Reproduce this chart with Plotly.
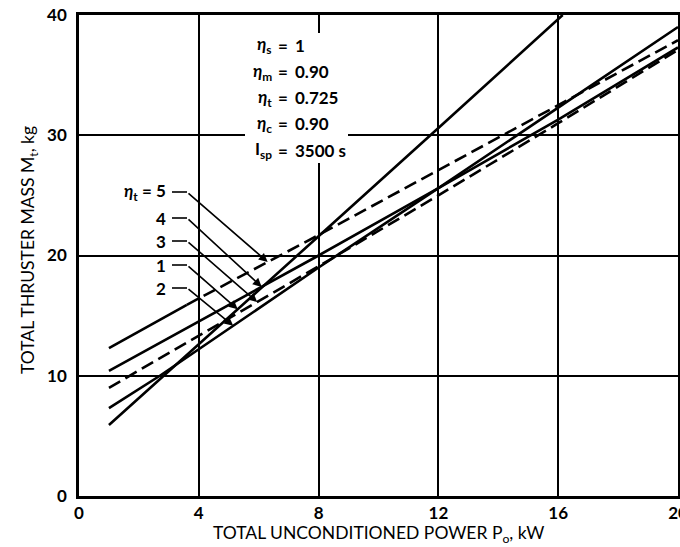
import numpy as np
import plotly.graph_objects as go

# ---------------- data ----------------
# total unconditioned power P_o (kW) and total thruster mass M_t (kg)
x_n1 = [1, 4, 8, 12, 16.15]
m_n1 = [5.9, 12.6, 21.6, 30.6, 40.0]
x_n2 = [1, 2.7, 8, 12, 16, 20]
m_n2 = [7.3, 10.0, 19.0, 25.6, 32.3, 39.0]
x_n3 = [1, 4, 8, 12, 16, 20]
m_n3 = [9.0, 13.3, 19.1, 25.0, 31.0, 37.1]
x_n4 = [1, 4, 8, 12, 16, 20]
m_n4 = [10.4, 14.5, 20.0, 25.6, 31.3, 37.3]
x_n5 = [1, 3.6, 8, 12, 16, 20]
m_n5 = [12.3, 15.9, 21.7, 27.1, 32.5, 37.9]

x_ticks = [0, 4, 8, 12, 16, 20]
y_ticks = [0, 10, 20, 30, 40]

x_title = "TOTAL UNCONDITIONED POWER P<sub>o</sub>, kW"
y_title = "TOTAL THRUSTER MASS M<sub>t</sub>, kg"

param_names = ["<i>η</i><sub>s</sub>", "<i>η</i><sub>m</sub>", "<i>η</i><sub>t</sub>",
               "<i>η</i><sub>c</sub>", "I<sub>sp</sub>"]
param_values = ["1", "0.90", "0.725", "0.90", "3500 s"]

label_texts = ["<i>η</i><sub>t</sub> = 5", "4", "3", "1", "2"]
label_series = [(x_n5, m_n5), (x_n4, m_n4), (x_n3, m_n3), (x_n1, m_n1), (x_n2, m_n2)]
label_tip_x = [6.3, 6.1, 5.95, 5.3, 5.15]

# ---------------- geometry helpers (layout only) ----------------
W, H = 680, 547
L, R, T, B = 79, 2, 15, 51
XMAX, YMAX = 20, 40

def px2x(px):
    return (px - L) / (W - L - R) * XMAX

def py2y(py):
    return (H - B - py) / (H - B - T) * YMAX

def px2paper(px):
    return (px - L) / (W - L - R)

def py2paper(py):
    return (H - B - py) / (H - B - T)

FONT = "Lato"
LW = 2.6
DASH = "13px,6px"
TXT = 17

fig = go.Figure()

def add_line(xs, ys, dash="solid"):
    fig.add_trace(go.Scatter(x=xs, y=ys, mode="lines",
                             line=dict(color="black", width=LW, dash=dash),
                             showlegend=False, hoverinfo="skip"))

add_line(x_n1, m_n1)
add_line(x_n2, m_n2)
add_line(x_n3, m_n3, DASH)
add_line(x_n4, m_n4)
# n = 5 : solid at the start, dashed afterwards
add_line(x_n5[:2], m_n5[:2])
add_line(x_n5[1:], m_n5[1:], DASH)

# white box behind the parameter block (hides grid lines)
fig.add_shape(type="rect", xref="x", yref="y",
              x0=px2x(245), x1=px2x(348), y0=py2y(163), y1=py2y(33),
              fillcolor="white", line=dict(width=0), layer="between")

rows_py = [45, 71.5, 97.5, 123.5, 150]
for name, val, py in zip(param_names, param_values, rows_py):
    y = py2y(py)
    fig.add_annotation(x=px2x(274), y=y, text=name, showarrow=False,
                       xanchor="right", yanchor="middle",
                       font=dict(family=FONT, size=TXT, color="black", weight="bold"))
    fig.add_annotation(x=px2x(283), y=y, text="=", showarrow=False,
                       xanchor="center", yanchor="middle",
                       font=dict(family=FONT, size=TXT, color="black", weight="bold"))
    fig.add_annotation(x=px2x(293), y=y, text=val, showarrow=False,
                       xanchor="left", yanchor="middle",
                       font=dict(family=FONT, size=TXT, color="black", weight="bold"))

# curve labels with leader arrows
labels_py = [192, 218, 241, 265, 288]
for txt, (xs, ys), tx, py in zip(label_texts, label_series, label_tip_x, labels_py):
    y = py2y(py)
    fig.add_annotation(x=px2x(168), y=y, text=txt, showarrow=False,
                       xanchor="right", yanchor="middle",
                       font=dict(family=FONT, size=TXT, color="black", weight="bold"))
    fig.add_shape(type="line", xref="x", yref="y",
                  x0=px2x(172), x1=px2x(187), y0=y, y1=y,
                  line=dict(color="black", width=1.6))
    ty = float(np.interp(tx, xs, ys))
    fig.add_annotation(x=tx, y=ty, ax=px2x(187), ay=y, axref="x", ayref="y",
                       xref="x", yref="y", text="", showarrow=True,
                       arrowhead=2, arrowsize=1.1, arrowwidth=1.6,
                       arrowcolor="black", standoff=0, startstandoff=0)

# axis titles as annotations (exact placement)
fig.add_annotation(xref="paper", yref="paper", x=px2paper(378), y=py2paper(534),
                   text=x_title, showarrow=False, xanchor="center", yanchor="middle",
                   font=dict(family=FONT, size=17.5, color="black"))
fig.add_annotation(xref="paper", yref="paper", x=px2paper(29), y=py2paper(250),
                   text=y_title, showarrow=False, textangle=-90,
                   xanchor="center", yanchor="middle",
                   font=dict(family=FONT, size=17.5, color="black"))

fig.update_layout(
    width=W, height=H,
    margin=dict(l=L, r=R, t=T, b=B),
    paper_bgcolor="white", plot_bgcolor="white",
    font=dict(family=FONT, color="black"),
    showlegend=False,
)
fig.update_xaxes(range=[0, XMAX], tickvals=x_ticks, ticktext=[str(v) for v in x_ticks],
                 showgrid=True, gridcolor="black", gridwidth=1.8,
                 showline=True, linecolor="black", linewidth=2.6, mirror=True,
                 zeroline=False, ticks="", ticklabelstandoff=0,
                 ticklabeloverflow="allow", automargin=False,
                 tickfont=dict(family=FONT, size=TXT, color="black", weight="bold"))
fig.update_yaxes(range=[0, YMAX], tickvals=y_ticks, ticktext=[str(v) for v in y_ticks],
                 showgrid=True, gridcolor="black", gridwidth=1.8,
                 showline=True, linecolor="black", linewidth=2.6, mirror=True,
                 zeroline=False, ticks="", ticklabelstandoff=6, automargin=False,
                 tickfont=dict(family=FONT, size=TXT, color="black", weight="bold"))

fig.write_html("out.html")
